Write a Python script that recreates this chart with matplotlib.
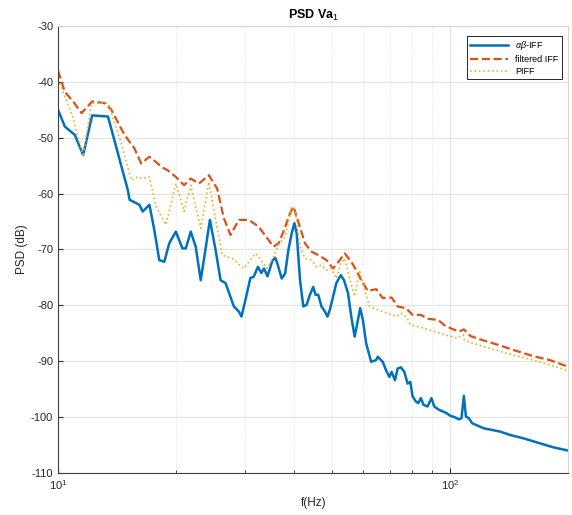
import numpy as np
import matplotlib
matplotlib.use('Agg')
import matplotlib.pyplot as plt
from matplotlib.ticker import LogLocator, NullFormatter

plt.rcParams['font.family'] = ['Liberation Sans', 'DejaVu Sans']
plt.rcParams['mathtext.fontset'] = 'custom'
plt.rcParams['mathtext.rm'] = 'Liberation Sans'
plt.rcParams['mathtext.it'] = 'Liberation Sans:italic'
plt.rcParams['axes.unicode_minus'] = False

# alpha-beta IFF (blue, solid)
f_ab = [10.0, 10.41, 11.04, 11.59, 12.22, 13.41, 15.07, 15.22, 16.12, 16.44,
        17.10, 17.60, 18.12, 18.66, 19.21, 19.97, 20.75, 21.17, 21.80, 22.44,
        23.11, 23.69, 24.39, 25.22, 25.97, 26.73, 28.07, 28.90, 29.36, 30.05,
        30.93, 31.53, 32.33, 32.98, 33.5, 34.2, 35.2, 35.8, 36.2, 37.18,
        37.93, 38.66, 39.42, 40.04, 40.59, 41.40, 42.20, 43.02, 43.88, 44.73,
        45.34, 46.06, 46.95, 47.89, 48.62, 49.31, 50.27, 51.24, 52.58, 53.59,
        54.86, 55.92, 57.04, 58.15, 58.93, 59.86, 61.03, 62.83, 64.69, 65.34,
        67.26, 68.57, 69.94, 70.87, 72.28, 73.42, 74.85, 76.35, 77.83, 79.07,
        80.14, 81.71, 82.85, 84.12, 85.45, 87.48, 89.54, 90.97, 93.63, 97.30,
        100.2, 102.5, 105.2, 106.8, 108.3, 109.6, 111.5, 113.7, 121.7, 134.1,
        142.1, 153.7, 169.3, 183.0, 200.0]
p_ab = [-45.0, -48.0, -49.5, -53.1, -46.0, -46.2, -59.4, -61.1, -62.0, -63.2,
        -62.0, -66.5, -71.9, -72.2, -68.9, -66.8, -69.8, -69.8, -66.8, -69.5,
        -75.5, -70.6, -64.7, -70.1, -75.5, -76.0, -80.2, -81.1, -82.0, -79.0,
        -75.1, -74.9, -73.1, -74.2, -73.4, -74.8, -72.0, -71.5, -72.4, -75.2,
        -74.3, -70.1, -67.1, -65.3, -67.1, -75.5, -80.2, -79.9, -78.1, -76.7,
        -78.1, -78.1, -80.2, -81.1, -82.0, -80.8, -78.4, -76.0, -74.6, -75.5,
        -77.8, -82.0, -85.6, -82.6, -80.5, -82.6, -86.8, -90.1, -89.8, -89.2,
        -90.1, -91.6, -92.8, -91.9, -93.4, -91.3, -91.1, -91.9, -94.0, -93.7,
        -96.3, -97.2, -97.5, -96.6, -97.8, -98.1, -96.6, -98.1, -98.7, -99.2,
        -99.8, -100.0, -100.4, -100.2, -96.2, -99.9, -100.2, -101.1, -102.0, -102.6,
        -103.2, -103.8, -104.7, -105.4, -106.0]

# filtered IFF (red, dashed)
f_filt = [10.0, 10.41, 10.93, 11.48, 12.22, 13.15, 13.68, 14.78, 15.66, 16.29,
          17.10, 17.95, 18.30, 19.02, 19.97, 20.96, 21.80, 22.88, 24.25, 25.45,
          26.47, 27.53, 28.90, 30.63, 32.46, 34.07, 35.43, 36.48, 37.55, 39.05,
          39.81, 40.59, 42.62, 44.29, 46.06, 48.34, 50.27, 52.27, 53.82, 55.92,
          57.58, 59.27, 61.64, 64.69, 67.26, 70.87, 73.42, 77.06, 80.14, 84.12,
          87.48, 93.08, 96.41, 100.2, 105.2, 108.3, 112.6, 119.3, 132.9, 145.0,
          162.9, 179.5, 200.0]
p_filt = [-38.0, -41.8, -43.5, -45.6, -43.5, -43.8, -45.0, -49.5, -51.9, -54.6,
          -53.4, -54.6, -55.2, -55.8, -57.0, -58.5, -57.3, -58.2, -56.7, -59.1,
          -64.4, -67.4, -64.7, -64.7, -65.9, -67.9, -69.5, -68.9, -66.8, -63.5,
          -62.3, -64.1, -68.9, -70.4, -71.0, -71.9, -73.4, -71.9, -70.7, -72.2,
          -73.7, -75.5, -77.4, -77.1, -78.7, -78.6, -80.2, -80.5, -81.7, -81.7,
          -82.4, -82.6, -83.5, -84.1, -84.7, -84.3, -85.5, -86.1, -87.1, -88.0,
          -89.1, -89.8, -91.0]

# PIFF (yellow, dotted)
f_piff = [10.0, 10.41, 10.93, 11.59, 12.17, 13.41, 14.50, 15.37, 15.97, 16.44,
          17.10, 17.78, 18.84, 19.97, 20.96, 21.80, 23.11, 24.25, 25.22, 26.21,
          27.79, 29.75, 31.84, 32.46, 34.07, 35.43, 36.48, 37.93, 39.42, 40.21,
          41.40, 42.62, 44.29, 45.60, 46.95, 48.34, 49.77, 51.24, 52.58, 53.82,
          55.40, 57.04, 58.73, 60.46, 62.25, 65.34, 69.25, 72.69, 74.85, 77.06,
          79.35, 85.81, 90.97, 97.30, 104.2, 107.9, 108.7, 121.7, 139.4, 162.9,
          200.0]
p_piff = [-39.5, -42.6, -46.5, -53.4, -43.8, -43.8, -51.0, -57.6, -57.0, -57.3,
          -57.0, -62.3, -65.6, -58.2, -63.2, -58.5, -66.2, -57.9, -64.7, -71.0,
          -71.6, -73.4, -70.7, -71.3, -73.4, -71.3, -69.2, -67.7, -62.3, -62.9,
          -69.5, -71.6, -71.9, -73.1, -72.8, -73.7, -73.4, -75.2, -72.5, -71.6,
          -75.2, -78.4, -73.7, -77.2, -80.2, -80.8, -81.4, -82.0, -81.4, -82.0,
          -83.5, -84.1, -84.7, -85.3, -85.9, -85.3, -86.3, -87.4, -88.6, -89.8,
          -91.7]

fig = plt.figure(figsize=(5.72, 5.15), dpi=100)
ax = fig.add_axes([0.1014, 0.0816, 0.8923, 0.8679])

ax.semilogx(f_ab, p_ab, color='#0072BD', lw=1.8, label=r'$\alpha\beta$-IFF')
ax.semilogx(f_filt, p_filt, color='#D95319', lw=1.6, ls='--', label='filtered IFF')
ax.semilogx(f_piff, p_piff, color='#EDB120', lw=1.2, ls=':', label='PIFF')

ax.set_xlim(10, 200)
ax.set_ylim(-110, -30)
ax.set_yticks(np.arange(-110, -29, 10))
ax.xaxis.set_minor_locator(LogLocator(base=10, subs=np.arange(2, 10)))
ax.xaxis.set_minor_formatter(NullFormatter())

ax.grid(True, which='major', color='#e3e3e3', lw=0.8)
ax.grid(True, which='minor', axis='x', color='#e3e3e3', lw=0.7, ls=':')
ax.set_axisbelow(True)

for s in ['left', 'bottom']:
    ax.spines[s].set_color('#404040')
    ax.spines[s].set_linewidth(0.8)
for s in ['top', 'right']:
    ax.spines[s].set_color('#d6d6d6')
    ax.spines[s].set_linewidth(0.8)

ax.tick_params(which='both', direction='in', colors='#262626', labelsize=8)
ax.tick_params(which='minor', length=2)

ax.set_title(r'PSD Va$_1$', fontsize=9, fontweight='bold', pad=5)
ax.set_xlabel('f(Hz)', fontsize=8.5, color='#262626')
ax.set_ylabel('PSD (dB)', fontsize=8.5, color='#262626', labelpad=2)

leg = ax.legend(loc='upper right', bbox_to_anchor=(0.988, 0.978), borderaxespad=0,
                fontsize=6.5, handlelength=4.2, frameon=True, fancybox=False,
                framealpha=1, edgecolor='#262626', borderpad=0.4, labelspacing=0.3)
leg.get_frame().set_linewidth(0.7)

fig.savefig('out.png', dpi=100)
